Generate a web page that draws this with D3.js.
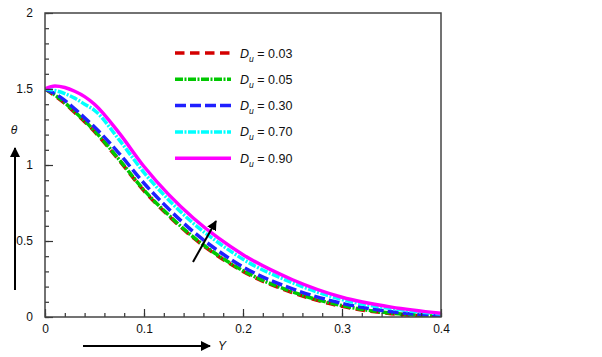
<!DOCTYPE html>
<html>
<head>
  <meta charset="utf-8">
  <script src="https://cdn.jsdelivr.net/npm/d3@7/dist/d3.min.js"></script>
  <style>
    body { margin: 0; background: #fff; }
    svg text { font-family: "Liberation Sans", Arial, sans-serif; fill: #111; }
  </style>
</head>
<body>
  <svg id="chart" width="602" height="357"></svg>

  <script>
    var yPos = [0, 0.01, 0.02, 0.03, 0.04, 0.05, 0.075, 0.1, 0.125, 0.15, 0.175, 0.2, 0.25, 0.3, 0.35, 0.4];

    var du003 = [1.50, 1.455, 1.405, 1.345, 1.285, 1.22, 1.03, 0.83, 0.665, 0.52, 0.40, 0.30, 0.16, 0.07, 0.022, 0.003];
    var du005 = [1.50, 1.46, 1.41, 1.35, 1.29, 1.225, 1.035, 0.835, 0.67, 0.525, 0.405, 0.305, 0.165, 0.075, 0.025, 0.005];
    var du030 = [1.50, 1.47, 1.425, 1.37, 1.31, 1.25, 1.075, 0.88, 0.71, 0.56, 0.435, 0.33, 0.185, 0.09, 0.035, 0.008];
    var du070 = [1.50, 1.49, 1.47, 1.44, 1.40, 1.36, 1.165, 0.95, 0.77, 0.615, 0.49, 0.38, 0.225, 0.115, 0.055, 0.02];
    var du090 = [1.50, 1.52, 1.51, 1.485, 1.45, 1.40, 1.21, 0.99, 0.805, 0.65, 0.52, 0.41, 0.245, 0.13, 0.065, 0.025];

    var seriesNames = ['0.03', '0.05', '0.30', '0.70', '0.90'];
    var seriesValues = [du003, du005, du030, du070, du090];
    var colors = ['#d40000', '#00c800', '#2020ff', '#00ffff', '#ff00ff'];
    var dashes = ['9.5,5.5', '8,1.5,2,1.5', '11,4', '8,1.5,2,1.5', null];

    var xTicks = [0, 0.1, 0.2, 0.3, 0.4];
    var yTicks = [0, 0.5, 1, 1.5, 2];

    var svg = d3.select('#chart'),
      margin = { left: 45, right: 161, top: 13, bottom: 40 },
      width = +svg.attr('width') - margin.left - margin.right,
      height = +svg.attr('height') - margin.top - margin.bottom;

    var x = d3.scaleLinear().domain([0, 0.4]).range([margin.left, margin.left + width]);
    var y = d3.scaleLinear().domain([0, 2]).range([margin.top + height, margin.top]);

    svg.append('defs').append('marker')
      .attr('id', 'head')
      .attr('viewBox', '0 0 10 10')
      .attr('refX', 9).attr('refY', 5)
      .attr('markerWidth', 5).attr('markerHeight', 5)
      .attr('orient', 'auto')
      .append('path')
      .attr('d', 'M0,0 L10,5 L0,10 z')
      .attr('fill', '#000');

    // clip so thick lines stay inside the frame
    svg.select('defs').append('clipPath').attr('id', 'clip')
      .append('rect')
      .attr('x', margin.left).attr('y', margin.top)
      .attr('width', width).attr('height', height);

    var line = d3.line()
      .x((d, i) => x(yPos[i]))
      .y(d => y(d))
      .curve(d3.curveMonotoneX);

    var curves = svg.append('g').attr('clip-path', 'url(#clip)');
    seriesValues.forEach((vals, i) => {
      curves.append('path')
        .attr('d', line(vals))
        .attr('fill', 'none')
        .attr('stroke', colors[i])
        .attr('stroke-width', 3.5)
        .attr('stroke-dasharray', dashes[i]);
    });

    // axes with inward ticks
    var xMinor = d3.range(0, 0.4001, 0.02);
    var yMinor = d3.range(0, 2.0001, 0.1);

    svg.append('g')
      .attr('transform', 'translate(0,' + (margin.top + height) + ')')
      .call(d3.axisBottom(x).tickValues(xMinor).tickSize(-4).tickFormat(''))
      .call(g => g.select('.domain').remove());
    svg.append('g')
      .attr('transform', 'translate(0,' + (margin.top + height) + ')')
      .call(d3.axisBottom(x).tickValues(xTicks).tickSize(-8).tickPadding(12).tickFormat(d3.format('')))
      .call(g => g.select('.domain').remove())
      .call(g => g.selectAll('text').attr('font-size', 12).attr('dy', '0.3em'));

    svg.append('g')
      .attr('transform', 'translate(' + margin.left + ',0)')
      .call(d3.axisLeft(y).tickValues(yMinor).tickSize(-4).tickFormat(''))
      .call(g => g.select('.domain').remove());
    svg.append('g')
      .attr('transform', 'translate(' + margin.left + ',0)')
      .call(d3.axisLeft(y).tickValues(yTicks).tickSize(-8).tickPadding(12).tickFormat(d3.format('')))
      .call(g => g.select('.domain').remove())
      .call(g => g.selectAll('text').attr('font-size', 12));

    svg.selectAll('.tick line').attr('stroke', '#333').attr('stroke-width', 1.2);

    svg.append('rect')
      .attr('x', margin.left).attr('y', margin.top)
      .attr('width', width).attr('height', height)
      .attr('fill', 'none')
      .attr('stroke', '#444')
      .attr('stroke-width', 1.5);

    // legend
    var legend = svg.append('g');
    seriesNames.forEach((name, i) => {
      var ly = 53 + i * 26.3;
      legend.append('line')
        .attr('x1', 175).attr('x2', 231)
        .attr('y1', ly).attr('y2', ly)
        .attr('stroke', colors[i])
        .attr('stroke-width', 3.5)
        .attr('stroke-dasharray', dashes[i]);
      var t = legend.append('text')
        .attr('x', 240).attr('y', ly + 4.5)
        .attr('font-size', 12.5);
      t.append('tspan').attr('font-style', 'italic').text('D');
      t.append('tspan').attr('font-style', 'italic').attr('font-size', 8.5).attr('dy', 4).text('u');
      t.append('tspan').attr('dy', -4).text(' = ' + name);
    });

    // axis titles with arrows
    svg.append('text')
      .attr('x', 14).attr('y', 134)
      .attr('text-anchor', 'middle')
      .attr('font-size', 12)
      .attr('font-style', 'italic')
      .text('θ');
    svg.append('line')
      .attr('x1', 15).attr('y1', 290).attr('x2', 15).attr('y2', 148)
      .attr('stroke', '#000').attr('stroke-width', 2)
      .attr('marker-end', 'url(#head)');

    svg.append('line')
      .attr('x1', 83).attr('y1', 346).attr('x2', 210).attr('y2', 346)
      .attr('stroke', '#000').attr('stroke-width', 2)
      .attr('marker-end', 'url(#head)');
    svg.append('text')
      .attr('x', 218).attr('y', 350)
      .attr('font-size', 12)
      .attr('font-style', 'italic')
      .text('Y');

    // arrow showing increasing Du
    svg.append('line')
      .attr('x1', 193).attr('y1', 262).attr('x2', 216).attr('y2', 221)
      .attr('stroke', '#000').attr('stroke-width', 2)
      .attr('marker-end', 'url(#head)');
  </script>
</body>
</html>
